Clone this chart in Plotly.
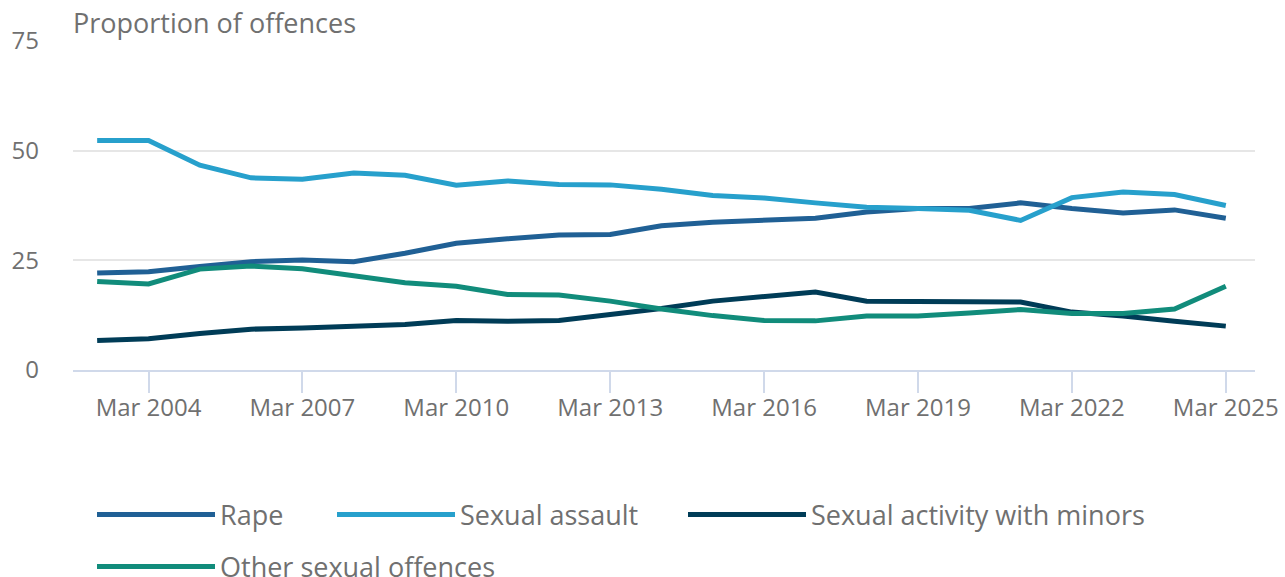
import plotly.graph_objects as go

years = list(range(2003, 2026))
dates = [f"{y}-03-01" for y in years]

rape = [22.1, 22.4, 23.6, 24.7, 25.1, 24.7, 26.6, 28.9, 29.9, 30.8, 30.9, 32.9,
        33.7, 34.2, 34.6, 36.0, 36.8, 36.8, 38.1, 36.8, 35.8, 36.5, 34.6]
sexual_assault = [52.3, 52.3, 46.7, 43.8, 43.5, 44.9, 44.4, 42.1, 43.1, 42.3, 42.2, 41.2,
                  39.8, 39.2, 38.1, 37.1, 36.8, 36.4, 34.1, 39.3, 40.6, 40.0, 37.5]
minors = [6.7, 7.1, 8.3, 9.3, 9.6, 10.1, 10.4, 11.3, 11.1, 11.3, 12.6, 14.0,
          15.7, 16.8, 17.8, 15.7, 15.7, 15.5, 15.5, 13.2, 12.3, 11.1, 10.0]
other = [20.2, 19.6, 23.0, 23.7, 23.1, 21.6, 19.9, 19.1, 17.2, 17.1, 15.7, 13.9,
         12.4, 11.3, 11.2, 12.3, 12.3, 13.0, 13.8, 12.9, 12.9, 13.9, 19.1]

FONT = "Open Sans"
GREY = "#707070"

fig = go.Figure()
for name, vals, color, leg in [
    ("Rape", rape, "#206095", "legend"),
    ("Sexual assault", sexual_assault, "#27a0cc", "legend2"),
    ("Sexual activity with minors", minors, "#003c57", "legend3"),
    ("Other sexual offences", other, "#118c7b", "legend4"),
]:
    fig.add_trace(go.Scatter(
        x=dates, y=vals, name=name, mode="lines",
        line=dict(color=color, width=5), legend=leg, showlegend=True,
    ))

# one legend per entry so the spacing matches the source
leg_style = dict(
    orientation="h", xanchor="left", yanchor="middle",
    font=dict(family=FONT, size=27, color=GREY),
    itemwidth=118, bgcolor="rgba(0,0,0,0)",
)
row1 = (370 - 515) / 329
row2 = (370 - 567) / 329

fig.update_layout(
    width=1285, height=577,
    showlegend=True,
    paper_bgcolor="white", plot_bgcolor="white",
    margin=dict(l=73, r=30, t=41, b=207, autoexpand=False),
    font=dict(family=FONT, color=GREY),
    legend=dict(x=(92 - 73) / 1182, y=row1, **leg_style),
    legend2=dict(x=(332 - 73) / 1182, y=row1, **leg_style),
    legend3=dict(x=(683 - 73) / 1182, y=row1, **leg_style),
    legend4=dict(x=(92 - 73) / 1182, y=row2, **leg_style),
    xaxis=dict(
        type="date", range=["2002-09-10", "2025-09-25"],
        tick0="2004-03-01", dtick="M36", tickformat="%b %Y",
        showgrid=False, showline=True, linecolor="#d0d9ea", linewidth=2,
        ticks="outside", ticklen=21, tickwidth=2, tickcolor="#d0d9ea",
        ticklabelstandoff=-6,
        tickfont=dict(family=FONT, size=24, color=GREY),
    ),
    yaxis=dict(
        range=[0, 75], tick0=0, dtick=25,
        showgrid=True, gridcolor="#e6e6e6", gridwidth=2,
        zeroline=False, ticks="", ticklabelstandoff=33,
        tickfont=dict(family=FONT, size=24, color=GREY),
    ),
    annotations=[dict(
        text="Proportion of offences", xref="paper", yref="paper",
        x=0, y=1, xanchor="left", yanchor="bottom", yshift=-2, xshift=-2,
        showarrow=False,
        font=dict(family=FONT, size=27, color=GREY),
    )],
)

fig.write_html("out.html", config={"displayModeBar": False},
               post_script="document.body.style.margin = '0';")
